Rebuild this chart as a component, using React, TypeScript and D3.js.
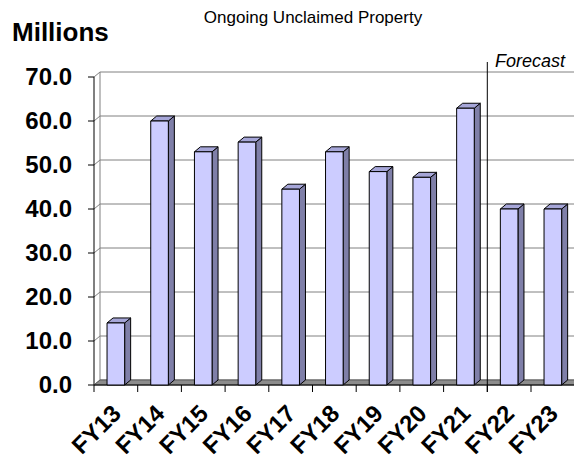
import React from "react";
import * as d3 from "d3";

const categories = ["FY13", "FY14", "FY15", "FY16", "FY17", "FY18", "FY19", "FY20", "FY21", "FY22", "FY23"];
const values = [14.1, 60.0, 53.0, 55.2, 44.5, 53.0, 48.5, 47.2, 62.9, 40.0, 40.0];
const yTicks = [0, 10, 20, 30, 40, 50, 60, 70];
const forecastIndex = 9;

const W = 574;
const H = 459;
const DX = 6;
const DY = 5;
const x0 = 94;
const x1 = 574.7;
const yTop = 77;
const yBottom = 385;
const backRight = 590;

export default function App() {
  const x = d3.scaleBand<string>().domain(categories).range([x0, x1]).paddingInner(0).paddingOuter(0);
  const y = d3.scaleLinear().domain([0, 70]).range([yBottom, yTop]);
  const cw = x.bandwidth();
  const bw = cw * 0.403;
  const font = "Liberation Sans, Arial, sans-serif";

  return (
    <svg width={W} height={H} style={{ position: "absolute", left: 0, top: 0, background: "#fff" }}>
      <rect x={0} y={0} width={W} height={H} fill="#fff" />
      {/* back wall gridlines */}
      {yTicks.map((t) => (
        <g key={t}>
          <line x1={x0 + DX} x2={backRight} y1={y(t) - DY} y2={y(t) - DY} stroke="#808080" strokeWidth={1} />
          <line x1={x0} x2={x0 + DX} y1={y(t)} y2={y(t) - DY} stroke="#808080" strokeWidth={1} />
          <line x1={x0 - 6} x2={x0} y1={y(t)} y2={y(t)} stroke="#000" strokeWidth={1} />
        </g>
      ))}
      {/* walls */}
      <line x1={x0 + DX} x2={x0 + DX} y1={y(70) - DY} y2={y(0) - DY} stroke="#808080" />
      <line x1={x0} x2={x0} y1={y(70)} y2={y(0)} stroke="#000" />
      {/* floor */}
      <polygon
        points={`${x0},${yBottom} ${x1},${yBottom} ${x1 + DX},${yBottom - DY} ${x0 + DX},${yBottom - DY}`}
        fill="#8c8c8c"
        stroke="#5a5a5a"
        strokeWidth={1}
      />
      <line x1={x0} x2={x1} y1={yBottom} y2={yBottom} stroke="#000" />
      {/* x ticks */}
      {categories.map((c, i) => (
        <line key={c} x1={x0 + i * cw} x2={x0 + i * cw} y1={yBottom} y2={yBottom + 7} stroke="#000" />
      ))}
      <line x1={x1} x2={x1} y1={yBottom} y2={yBottom + 7} stroke="#000" />
      {/* forecast divider */}
      <line
        x1={x0 + forecastIndex * cw}
        x2={x0 + forecastIndex * cw}
        y1={62}
        y2={yBottom + 7}
        stroke="#000"
        strokeWidth={1}
      />
      {/* bars */}
      {categories.map((c, i) => {
        const bx = (x(c) as number) + (cw - bw) / 2;
        const top = y(values[i]);
        const bot = yBottom;
        return (
          <g key={c} stroke="#000" strokeWidth={1} strokeLinejoin="round">
            <polygon
              points={`${bx + bw},${top} ${bx + bw + DX},${top - DY} ${bx + bw + DX},${bot - DY} ${bx + bw},${bot}`}
              fill="#7f7fa8"
            />
            <polygon
              points={`${bx},${top} ${bx + DX},${top - DY} ${bx + bw + DX},${top - DY} ${bx + bw},${top}`}
              fill="#a6a6d8"
            />
            <rect x={bx} y={top} width={bw} height={bot - top} fill="#ccccff" />
          </g>
        );
      })}
      {/* y labels */}
      {yTicks.map((t) => (
        <text
          key={t}
          x={72}
          y={y(t)}
          dy="0.35em"
          textAnchor="end"
          fontFamily={font}
          fontWeight="bold"
          fontSize={24}
        >
          {t.toFixed(1)}
        </text>
      ))}
      {/* x labels */}
      {categories.map((c) => {
        const cx = (x(c) as number) + cw / 2 + 6.5;
        const cy = 415;
        return (
          <text
            key={c}
            x={cx}
            y={cy}
            textAnchor="end"
            transform={`rotate(-45 ${cx} ${cy})`}
            fontFamily={font}
            fontWeight="bold"
            fontSize={24}
          >
            {c}
          </text>
        );
      })}
      {/* titles */}
      <text x={313} y={23} textAnchor="middle" fontFamily={font} fontSize={17}>
        Ongoing Unclaimed Property
      </text>
      <text x={12} y={41} fontFamily={font} fontWeight="bold" fontSize={26}>
        Millions
      </text>
      <text x={495} y={67} fontFamily={font} fontStyle="italic" fontSize={18}>
        Forecast
      </text>
    </svg>
  );
}
